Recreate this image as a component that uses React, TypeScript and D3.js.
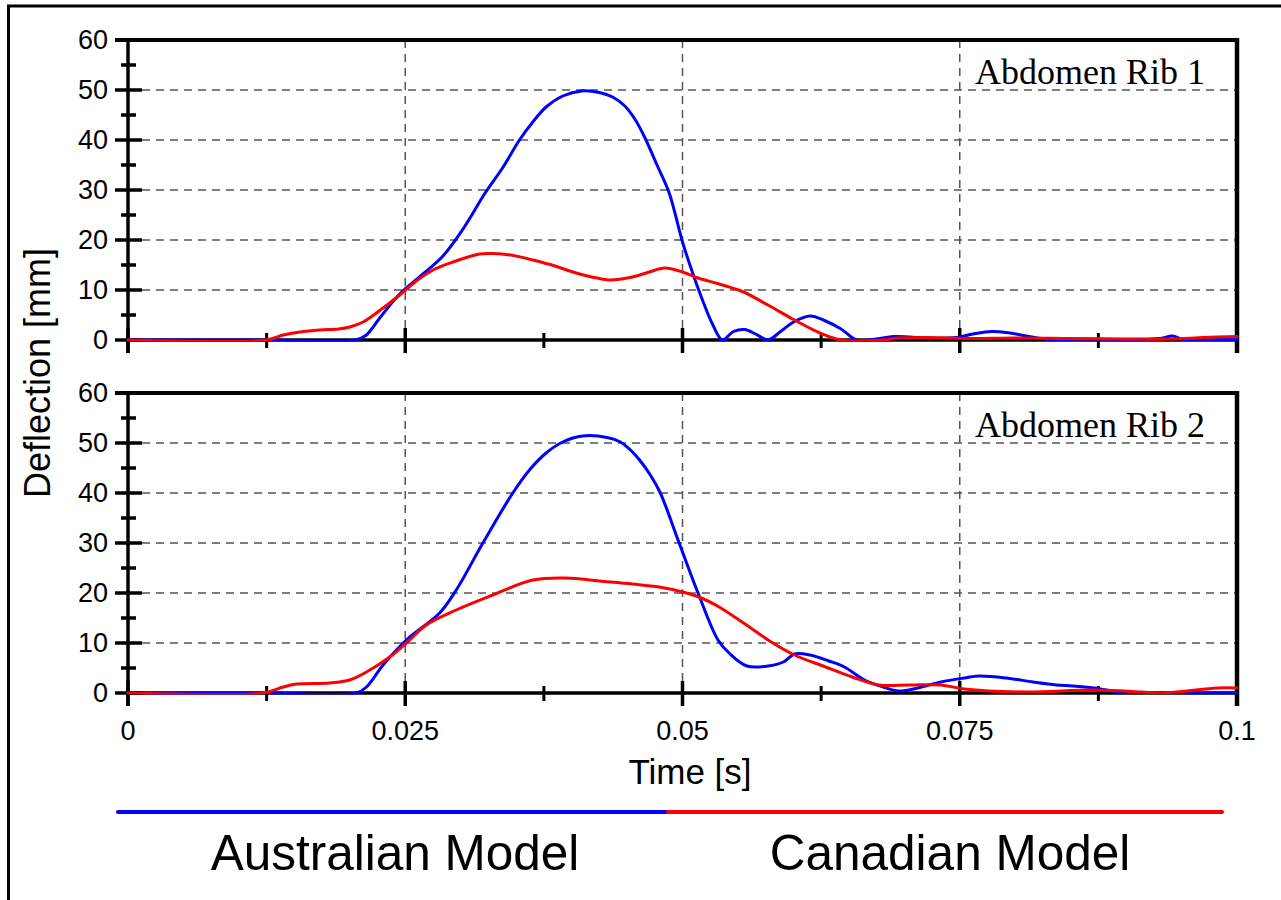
import React from "react";
import * as d3 from "d3";

// Time ticks and deflection ticks
const timeMajorTicks = [0, 0.025, 0.05, 0.075, 0.1];
const timeMinorTicks = [0.0125, 0.0375, 0.0625, 0.0875];
const timeTickLabels = ["0", "0.025", "0.05", "0.075", "0.1"];
const deflMajorTicks = [0, 10, 20, 30, 40, 50, 60];
const deflMinorTicks = [5, 15, 25, 35, 45, 55];

const panelTitles = ["Abdomen Rib 1", "Abdomen Rib 2"];
const seriesNames = ["Australian Model", "Canadian Model"];
const seriesColors = ["#0000ff", "#ff0000"];

// [time (s), deflection (mm)]
const rib1Australian: [number, number][] = [
  [0, 0], [0.0125, 0], [0.0205, 0], [0.0215, 1], [0.0227, 4.4], [0.0245, 9.2],
  [0.0265, 13], [0.0284, 16.8], [0.0303, 22.5], [0.0322, 29.4], [0.0338, 34.5],
  [0.0353, 40], [0.0365, 43.6], [0.0377, 46.6], [0.0392, 48.8], [0.0409, 49.8],
  [0.0425, 49.5], [0.0437, 48.6], [0.0448, 46.8], [0.0457, 44.2], [0.0466, 40.5],
  [0.0477, 35], [0.0488, 29.4], [0.05, 19.6], [0.0509, 13.5], [0.0518, 8],
  [0.0527, 3.2], [0.0536, 0], [0.0546, 1.7], [0.0556, 2.1], [0.0566, 1.2],
  [0.0577, 0], [0.0589, 1.8], [0.0601, 3.7], [0.0615, 4.8], [0.0628, 3.9],
  [0.0643, 2.2], [0.0657, 0], [0.0675, 0.2], [0.069, 0.7], [0.0705, 0.6],
  [0.072, 0.4], [0.0747, 0.5], [0.0762, 1.2], [0.0779, 1.7], [0.0795, 1.4],
  [0.081, 0.8], [0.083, 0.1], [0.086, 0.2], [0.09, 0.1], [0.093, 0.3],
  [0.0942, 0.8], [0.095, 0.2], [0.097, 0.1], [0.1, 0.1],
];

const rib1Canadian: [number, number][] = [
  [0, 0], [0.0125, 0], [0.014, 1], [0.0155, 1.6], [0.0173, 2], [0.019, 2.2],
  [0.02, 2.6], [0.0212, 3.6], [0.023, 6.4], [0.0245, 9], [0.026, 11.8],
  [0.0275, 14], [0.0293, 15.6], [0.0317, 17.2], [0.0329, 17.3], [0.0345, 17],
  [0.0365, 16], [0.0385, 14.8], [0.0401, 13.6], [0.0418, 12.6], [0.0434, 12],
  [0.0445, 12.2], [0.0455, 12.6], [0.047, 13.6], [0.0484, 14.4], [0.05, 13.6],
  [0.0514, 12.4], [0.0533, 11.2], [0.0554, 9.7], [0.0577, 7], [0.0601, 4],
  [0.0625, 1.3], [0.0643, 0], [0.068, 0], [0.0695, 0.4], [0.072, 0.5],
  [0.076, 0.3], [0.08, 0.4], [0.085, 0.3], [0.09, 0.2], [0.094, 0.2],
  [0.097, 0.5], [0.1, 0.7],
];

const rib2Australian: [number, number][] = [
  [0, 0], [0.0125, 0], [0.0206, 0], [0.0215, 1.2], [0.023, 5.6], [0.0251, 10.6],
  [0.0281, 16], [0.0296, 20.6], [0.032, 30], [0.0347, 40], [0.0362, 44.6],
  [0.0377, 48], [0.0392, 50.2], [0.041, 51.4], [0.0432, 51.1], [0.0444, 50.2],
  [0.0454, 48.4], [0.0462, 46.4], [0.0471, 43.6], [0.048, 40], [0.0497, 30],
  [0.0514, 20], [0.0532, 10.6], [0.0542, 8], [0.0558, 5.4], [0.0577, 5.4],
  [0.0591, 6.2], [0.0601, 7.8], [0.0615, 7.6], [0.0632, 6.4], [0.0646, 5.2],
  [0.0664, 2.6], [0.0681, 1.2], [0.0695, 0.4], [0.0712, 1], [0.0733, 2.2],
  [0.0754, 3], [0.0767, 3.4], [0.0792, 3], [0.0816, 2.2], [0.0837, 1.6],
  [0.0852, 1.4], [0.0871, 1], [0.0895, 0.2], [0.092, 0.1], [0.095, 0], [0.1, 0],
];

const rib2Canadian: [number, number][] = [
  [0, 0], [0.0122, 0], [0.014, 1.2], [0.0152, 1.8], [0.0182, 2], [0.02, 2.6],
  [0.0215, 4.2], [0.0236, 7.2], [0.0251, 10], [0.0269, 13.6], [0.0296, 16.6],
  [0.0329, 19.6], [0.0365, 22.6], [0.0395, 23], [0.0425, 22.4], [0.0455, 21.8],
  [0.0479, 21.2], [0.05, 20.2], [0.0517, 19], [0.0533, 17.2], [0.0555, 14],
  [0.058, 10.2], [0.0601, 7.6], [0.0629, 5.2], [0.0653, 3.2], [0.0677, 1.6],
  [0.0705, 1.6], [0.0733, 1.6], [0.0754, 0.8], [0.0809, 0.2], [0.0871, 0.6],
  [0.0914, 0.2], [0.093, 0], [0.095, 0.3], [0.0982, 1], [0.1, 1],
];

const panels = [
  { title: panelTitles[0], series: [rib1Australian, rib1Canadian], top: 40 },
  { title: panelTitles[1], series: [rib2Australian, rib2Canadian], top: 393 },
];

const W = 1281;
const H = 900;
const plotLeft = 128;
const plotRight = 1237;
const panelHeight = 300;

const SANS = "'Liberation Sans', Arial, sans-serif";
const SERIF = "'Liberation Serif', 'Times New Roman', serif";

const x = d3.scaleLinear().domain([0, 0.1]).range([plotLeft, plotRight]);

function Panel({ title, series, top, showXLabels, idx }: any) {
  const y = d3.scaleLinear().domain([0, 60]).range([top + panelHeight, top]);
  const line = d3
    .line<[number, number]>()
    .x((d) => x(d[0]))
    .y((d) => y(d[1]))
    .curve(d3.curveCatmullRom.alpha(0.5));
  const y0 = y(0);
  const gridY = deflMajorTicks.filter((v) => v > 0 && v < 60);
  const gridX = timeMajorTicks.filter((v) => v > 0 && v < 0.1);
  const clipId = "plotclip" + idx;
  return (
    <g>
      <defs>
        <clipPath id={clipId}>
          <rect x={plotLeft - 2} y={top} width={plotRight - plotLeft + 4} height={panelHeight + 1.5} />
        </clipPath>
      </defs>
      {/* dashed grid */}
      {gridY.map((v) => (
        <line key={"gy" + v} x1={plotLeft} x2={plotRight} y1={y(v)} y2={y(v)}
          stroke="#555" strokeWidth={1.5} strokeDasharray="8,6" />
      ))}
      {gridX.map((v) => (
        <line key={"gx" + v} x1={x(v)} x2={x(v)} y1={top} y2={y0}
          stroke="#555" strokeWidth={1.5} strokeDasharray="8,6" />
      ))}
      {/* frame: top and right */}
      <line x1={plotLeft - 13} x2={plotRight + 2} y1={top} y2={top} stroke="#000" strokeWidth={4} />
      <line x1={plotRight} x2={plotRight} y1={top - 2} y2={y0 + 13} stroke="#000" strokeWidth={4.5} />
      {/* y axis */}
      <line x1={plotLeft} x2={plotLeft} y1={top} y2={y0 + 13} stroke="#000" strokeWidth={3.5} />
      {deflMajorTicks.map((v) => (
        <line key={"ym" + v} x1={plotLeft - 13} x2={plotLeft + 14} y1={y(v)} y2={y(v)}
          stroke="#000" strokeWidth={3.5} />
      ))}
      {deflMinorTicks.map((v) => (
        <line key={"yn" + v} x1={plotLeft - 7} x2={plotLeft + 8} y1={y(v)} y2={y(v)}
          stroke="#000" strokeWidth={3.5} />
      ))}
      {deflMajorTicks.map((v) => (
        <text key={"yl" + v} x={108} y={y(v) + 9} textAnchor="end"
          fontFamily={SANS} fontSize={27} fill="#000">{v}</text>
      ))}
      {/* x axis */}
      <line x1={plotLeft} x2={plotRight} y1={y0} y2={y0} stroke="#000" strokeWidth={3.5} />
      {timeMajorTicks.map((v) => (
        <line key={"xm" + v} x1={x(v)} x2={x(v)} y1={y0 - 12} y2={y0 + 13}
          stroke="#000" strokeWidth={3.5} />
      ))}
      {timeMinorTicks.map((v) => (
        <line key={"xn" + v} x1={x(v)} x2={x(v)} y1={y0 - 7} y2={y0 + 8}
          stroke="#000" strokeWidth={3} />
      ))}
      {showXLabels &&
        timeMajorTicks.map((v, i) => (
          <text key={"xl" + v} x={x(v)} y={y0 + 47} textAnchor="middle"
            fontFamily={SANS} fontSize={27} fill="#000">{timeTickLabels[i]}</text>
        ))}
      {/* series */}
      <g clipPath={`url(#${clipId})`}>
        {series.map((s: [number, number][], i: number) => (
          <path key={"s" + i} d={line(s) || ""} fill="none" stroke={seriesColors[i]}
            strokeWidth={3} strokeLinejoin="round" strokeLinecap="round" />
        ))}
      </g>
      <text x={1205} y={top + 44} textAnchor="end" fontFamily={SERIF} fontSize={36} fill="#000">
        {title}
      </text>
    </g>
  );
}

export default function App() {
  const legendLeft = 118;
  const legendMid = 668;
  const legendRight = 1222;
  return (
    <svg width={W} height={H} style={{ position: "fixed", left: 0, top: 0, background: "#fff" }}>
      <rect x={0} y={0} width={W} height={H} fill="#fff" />
      {/* outer frame */}
      <line x1={8.5} x2={8.5} y1={5} y2={H} stroke="#000" strokeWidth={3} />
      <line x1={7} x2={W} y1={6} y2={6} stroke="#000" strokeWidth={3} />
      {panels.map((p, i) => (
        <Panel key={i} idx={i} title={p.title} series={p.series} top={p.top} showXLabels={i === 1} />
      ))}
      <text transform="translate(50,373) rotate(-90)" textAnchor="middle"
        fontFamily={SANS} fontSize={36} fill="#000">Deflection [mm]</text>
      <text x={690} y={784} textAnchor="middle" fontFamily={SANS} fontSize={35} fill="#000">
        Time [s]
      </text>
      {/* legend */}
      <line x1={legendLeft} x2={legendMid} y1={812} y2={812} stroke={seriesColors[0]} strokeWidth={4} strokeLinecap="round" />
      <line x1={legendMid} x2={legendRight} y1={812} y2={812} stroke={seriesColors[1]} strokeWidth={4} strokeLinecap="round" />
      <text x={(legendLeft + legendMid) / 2 + 2} y={870} textAnchor="middle" fontFamily={SANS} fontSize={49.5} fill="#000">
        {seriesNames[0]}
      </text>
      <text x={(legendMid + legendRight) / 2 + 5} y={870} textAnchor="middle" fontFamily={SANS} fontSize={49.5} fill="#000">
        {seriesNames[1]}
      </text>
    </svg>
  );
}
